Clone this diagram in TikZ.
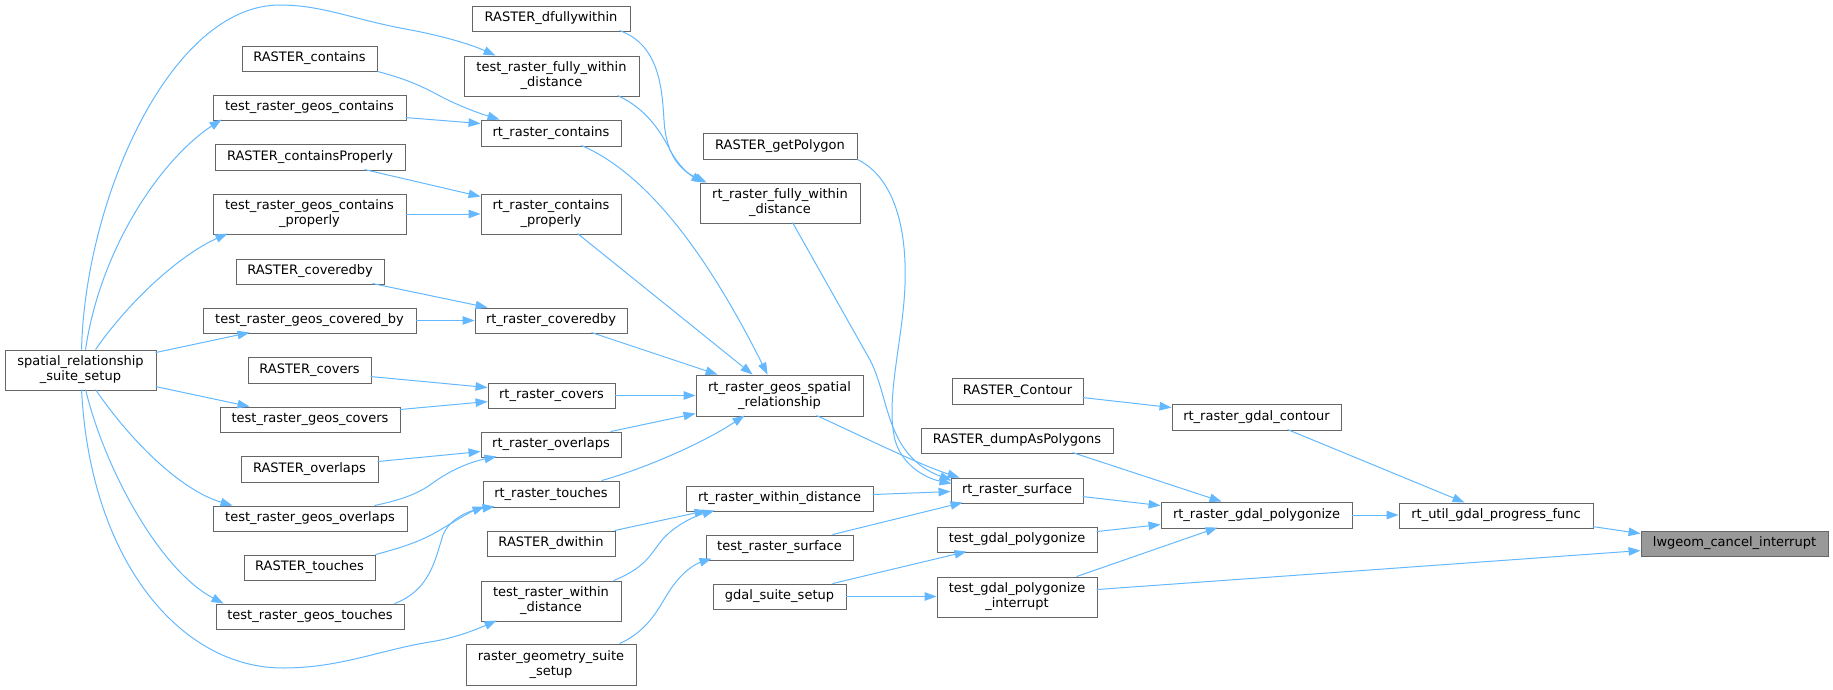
\documentclass[tikz,border=0pt]{standalone}
\usepackage{fontspec}
\setmainfont{DejaVu Sans}
\usetikzlibrary{arrows.meta}
\definecolor{edgeblue}{HTML}{63B8FF}
\definecolor{nodeborder}{HTML}{666666}
\definecolor{mainfill}{HTML}{999999}
\tikzset{
  box/.style={draw=nodeborder, line width=0.9pt, fill=white, inner sep=0pt, align=center, font=\fontsize{13}{15}\selectfont, text=black},
  mainbox/.style={fill=mainfill},
  edge/.style={draw=edgeblue, line width=1pt, -{Triangle[length=12pt,width=8.5pt]}},
}
\newcommand\bx[7][]{\node[box,#1,minimum width={#5-#3},minimum height={#6-#4}] (#2) at ({(#3+#5)/2},{(#4+#6)/2}) {#7};}
\begin{document}
\begin{tikzpicture}[x=1pt,y=-1pt]
\useasboundingbox (0,0) rectangle (1833,690);
% nodes
\bx{dfw}{472}{6}{630}{31}{RASTER\_dfullywithin}
\bx{trfwd}{464}{56}{639}{96}{test\_raster\_fully\_within\\\_distance}
\bx{Rcont}{242}{46}{377}{71}{RASTER\_contains}
\bx{tgc}{213}{95}{406}{120}{test\_raster\_geos\_contains}
\bx{rc}{481}{120}{621}{146}{rt\_raster\_contains}
\bx{Rcp}{215}{144}{405}{170}{RASTER\_containsProperly}
\bx{tgcp}{213}{194}{406}{234}{test\_raster\_geos\_contains\\\_properly}
\bx{rcp}{481}{194}{621}{234}{rt\_raster\_contains\\\_properly}
\bx{Rgp}{703}{133}{857}{159}{RASTER\_getPolygon}
\bx{rfwd}{700}{183}{860}{223}{rt\_raster\_fully\_within\\\_distance}
\bx{Rcb}{236}{259}{384}{284}{RASTER\_coveredby}
\bx{tgcb}{203}{308}{416}{333}{test\_raster\_geos\_covered\_by}
\bx{rcb}{475}{308}{627}{333}{rt\_raster\_coveredby}
\bx{srss}{5}{350}{156}{390}{spatial\_relationship\\\_suite\_setup}
\bx{Rcov}{248}{357}{371}{383}{RASTER\_covers}
\bx{rcov}{488}{383}{615}{408}{rt\_raster\_covers}
\bx{tgcov}{220}{407}{400}{432}{test\_raster\_geos\_covers}
\bx{rgsr}{696}{375}{863}{416}{rt\_raster\_geos\_spatial\\\_relationship}
\bx{Rcon}{952}{378}{1083}{404}{RASTER\_Contour}
\bx{rgc}{1172}{404}{1341}{430}{rt\_raster\_gdal\_contour}
\bx{Rdap}{921}{428}{1113}{453}{RASTER\_dumpAsPolygons}
\bx{rov}{481}{432}{621}{457}{rt\_raster\_overlaps}
\bx{Rov}{241}{456}{378}{482}{RASTER\_overlaps}
\bx{rs}{951}{478}{1083}{503}{rt\_raster\_surface}
\bx{rt}{483}{481}{619}{507}{rt\_raster\_touches}
\bx{rwd}{686}{486}{873}{511}{rt\_raster\_within\_distance}
\bx{rgp}{1161}{502}{1352}{528}{rt\_raster\_gdal\_polygonize}
\bx{rugpf}{1399}{503}{1593}{528}{rt\_util\_gdal\_progress\_func}
\bx{tgo}{213}{506}{407}{531}{test\_raster\_geos\_overlaps}
\bx{Rdw}{487}{531}{615}{556}{RASTER\_dwithin}
\bx[mainbox]{lci}{1641}{531}{1828}{556}{lwgeom\_cancel\_interrupt}
\bx{trs}{706}{535}{853}{560}{test\_raster\_surface}
\bx{tgp}{937}{527}{1097}{552}{test\_gdal\_polygonize}
\bx{Rt}{244}{555}{375}{580}{RASTER\_touches}
\bx{trwd}{481}{581}{621}{621}{test\_raster\_within\\\_distance}
\bx{gss}{713}{584}{846}{609}{gdal\_suite\_setup}
\bx{tgpi}{937}{577}{1097}{617}{test\_gdal\_polygonize\\\_interrupt}
\bx{tgt}{216}{604}{404}{629}{test\_raster\_geos\_touches}
\bx{rgss}{466}{644}{636}{685}{raster\_geometry\_suite\\\_setup}
% edges
\draw[edge] ([shift={(194,24)}]rugpf.north west) -- ([shift={(0,3)}]lci.north west);
\draw[edge] ([shift={(160,13)}]tgpi.north west) -- ([shift={(0,20)}]lci.north west);
\draw[edge] ([shift={(116,26)}]rgc.north west) -- ([shift={(66,0)}]rugpf.north west);
\draw[edge] (rgp.east) -- (rgp.east -| rugpf.west);
\draw[edge] ([shift={(131,20)}]Rcon.north west) -- ([shift={(0,4)}]rgc.north west);
\draw[edge] ([shift={(152,25)}]Rdap.north west) -- ([shift={(61,0)}]rgp.north west);
\draw[edge] ([shift={(132,19)}]rs.north west) -- ([shift={(0,4)}]rgp.north west);
\draw[edge] ([shift={(160,5)}]tgp.north west) -- ([shift={(0,23)}]rgp.north west);
\draw[edge] ([shift={(140,0)}]tgpi.north west) -- ([shift={(57,26)}]rgp.north west);
\draw[edge] ([shift={(120,0)}]gss.north west) -- ([shift={(30,25)}]tgp.north west);
\draw[edge] (gss.east) -- (gss.east -| tgpi.west);
\draw[edge] (Rgp.south east) .. controls (895,178) and (907,230) .. (905,285) .. controls (903,340) and (885,400) .. (895,440) .. controls (902,465) and (925,478) .. ([shift={(1,6)}]rs.north west);
\draw[edge] ([shift={(93,40)}]rfwd.north west) -- (870,360) .. controls (890,398) and (885,455) .. ([shift={(1,3)}]rs.north west);
\draw[edge] ([shift={(121,41)}]rgsr.north west) .. controls (870,440) and (920,465) .. ([shift={(9,0)}]rs.north west);
\draw[edge] ([shift={(187,9)}]rwd.north west) -- ([shift={(0,14)}]rs.north west);
\draw[edge] ([shift={(127,0)}]trs.north west) -- ([shift={(12,25)}]rs.north west);
\draw[edge] ([shift={(154,0)}]rgss.north west) .. controls (650,630) and (660,605) .. (670,590) .. controls (682,572) and (695,564) .. ([shift={(6,24)}]trs.north west);
\draw[edge] ([shift={(148,25)}]dfw.north west) .. controls (660,45) and (662,90) .. (664,120) .. controls (666,155) and (680,170) .. ([shift={(7,0)}]rfwd.north west);
\draw[edge] ([shift={(154,40)}]trfwd.north west) .. controls (645,108) and (660,130) .. (670,150) .. controls (680,168) and (690,175) .. ([shift={(4,0)}]rfwd.north west);
\draw[edge] ([shift={(128,0)}]Rdw.north west) -- ([shift={(21,25)}]rwd.north west);
\draw[edge] ([shift={(133,0)}]trwd.north west) .. controls (645,568) and (650,555) .. (662,540) .. controls (675,525) and (695,516) .. ([shift={(29,25)}]rwd.north west);
\draw[edge] ([shift={(101,26)}]rc.north west) .. controls (650,175) and (710,260) .. ([shift={(72,0)}]rgsr.north west);
\draw[edge] ([shift={(97,40)}]rcp.north west) -- ([shift={(57,0)}]rgsr.north west);
\draw[edge] ([shift={(117,25)}]rcb.north west) -- ([shift={(22,0)}]rgsr.north west);
\draw[edge] (rcov.east) -- (rcov.east -| rgsr.west);
\draw[edge] ([shift={(130,0)}]rov.north west) -- ([shift={(0,39)}]rgsr.north west);
\draw[edge] ([shift={(119,0)}]rt.north west) .. controls (640,470) and (700,445) .. ([shift={(49,41)}]rgsr.north west);
\draw[edge] (Rcont.south east) .. controls (410,80) and (425,88) .. (440,96) .. controls (455,104) and (475,112) .. ([shift={(19,0)}]rc.north west);
\draw[edge] ([shift={(193,23)}]tgc.north west) -- ([shift={(0,4)}]rc.north west);
\draw[edge] ([shift={(150,26)}]Rcp.north west) -- ([shift={(0,3)}]rcp.north west);
\draw[edge] (tgcp.east) -- (tgcp.east -| rcp.west);
\draw[edge] ([shift={(137,25)}]Rcb.north west) -- ([shift={(13,0)}]rcb.north west);
\draw[edge] (tgcb.east) -- (tgcb.east -| rcb.west);
\draw[edge] ([shift={(123,20)}]Rcov.north west) -- ([shift={(0,5)}]rcov.north west);
\draw[edge] ([shift={(180,3)}]tgcov.north west) -- ([shift={(0,19)}]rcov.north west);
\draw[edge] ([shift={(137,6)}]Rov.north west) -- ([shift={(0,20)}]rov.north west);
\draw[edge] ([shift={(162,0)}]tgo.north west) .. controls (400,500) and (415,495) .. (430,485) .. controls (450,470) and (470,462) .. ([shift={(16,25)}]rov.north west);
\draw[edge] (Rt.north east) .. controls (400,548) and (420,542) .. (440,530) .. controls (455,521) and (470,512) .. ([shift={(2,26)}]rt.north west);
\draw[edge] ([shift={(179,0)}]tgt.north west) .. controls (430,590) and (435,560) .. (443,535) .. controls (450,518) and (470,510) .. ([shift={(12,26)}]rt.north west);
\draw[edge] ([shift={(77,0)}]srss.north west) .. controls (85,200) and (170,5) .. (280,5) .. controls (320,5) and (350,18) .. (400,28) .. controls (440,35) and (470,44) .. ([shift={(32,0)}]trfwd.north west);
\draw[edge] ([shift={(81,0)}]srss.north west) .. controls (100,250) and (160,160) .. ([shift={(9,25)}]tgc.north west);
\draw[edge] ([shift={(91,0)}]srss.north west) .. controls (130,300) and (180,255) .. ([shift={(15,40)}]tgcp.north west);
\draw[edge] ([shift={(151,3)}]srss.north west) -- ([shift={(47,25)}]tgcb.north west);
\draw[edge] ([shift={(151,37)}]srss.north west) -- ([shift={(30,0)}]tgcov.north west);
\draw[edge] ([shift={(91,40)}]srss.north west) .. controls (130,440) and (180,490) .. ([shift={(20,0)}]tgo.north west);
\draw[edge] ([shift={(81,40)}]srss.north west) .. controls (105,470) and (160,570) .. ([shift={(8,0)}]tgt.north west);
\draw[edge] ([shift={(77,40)}]srss.north west) .. controls (90,560) and (180,668) .. (283,668) .. controls (340,668) and (380,650) .. (430,642) .. controls (455,638) and (475,630) .. ([shift={(16,40)}]trwd.north west);
\end{tikzpicture}
\end{document}
